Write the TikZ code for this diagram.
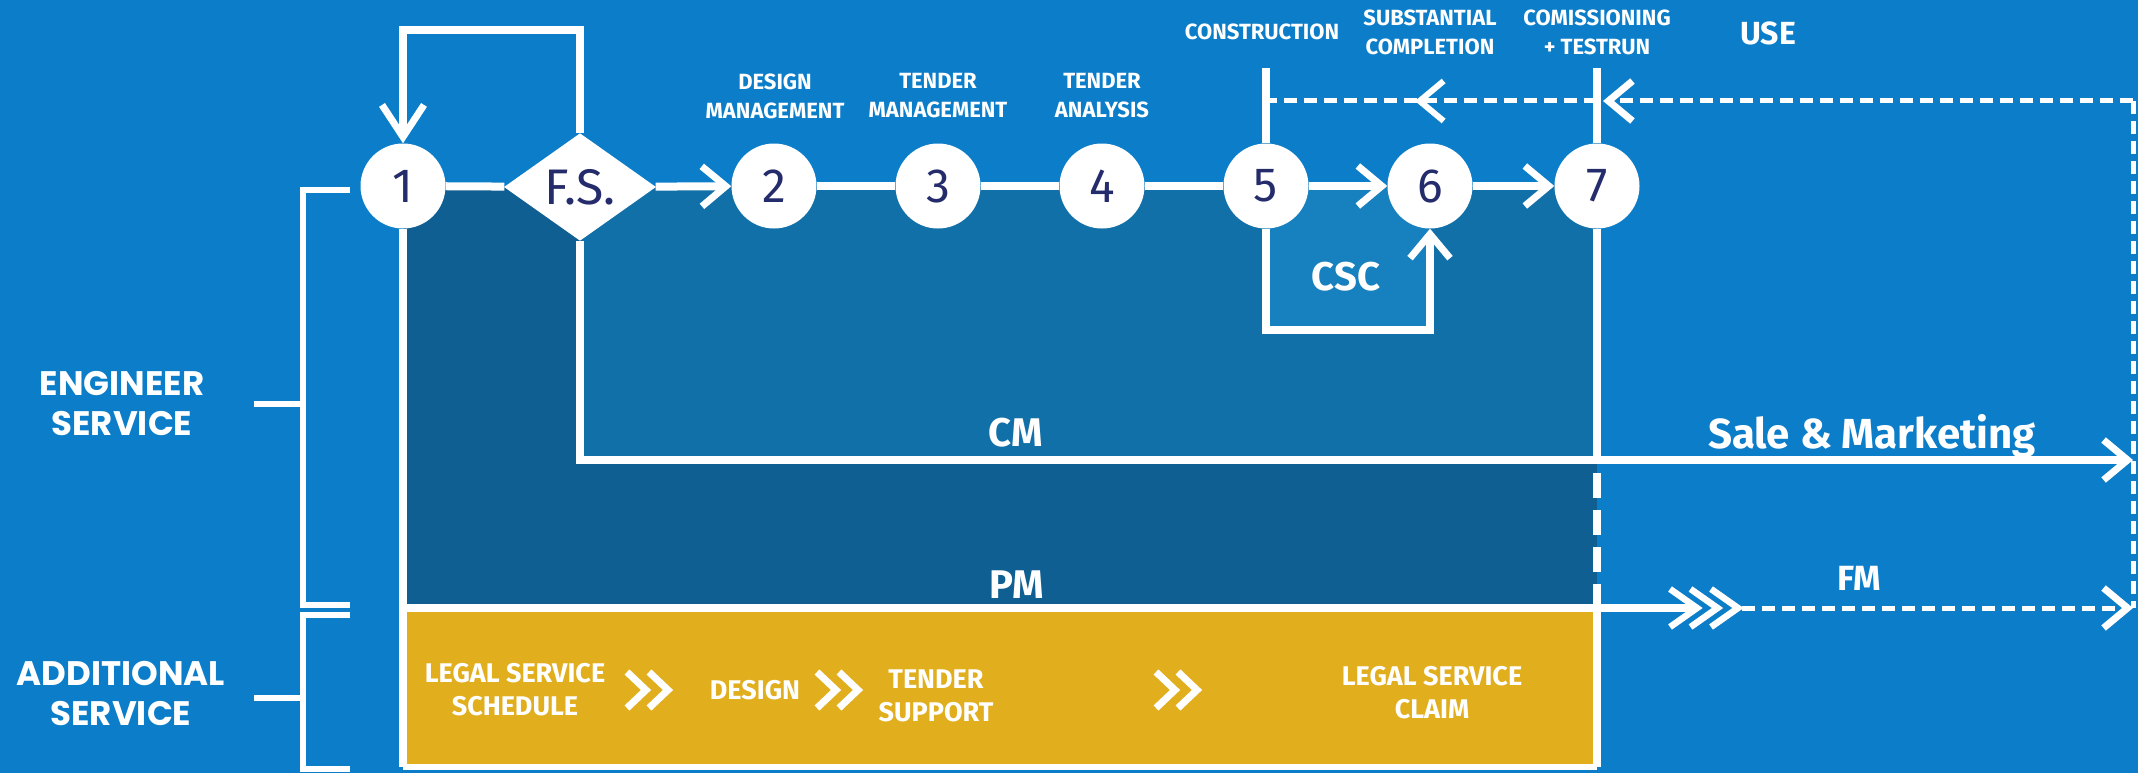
\documentclass[tikz,border=0pt]{standalone}
\usepackage{fontspec}
\setmainfont{Fira Sans}
\newfontfamily\popfont{Poppins}
\usetikzlibrary{arrows.meta,shapes.geometric,decorations.markings}
\definecolor{bgblue}{HTML}{0B7DC9}
\definecolor{darkreg}{HTML}{105F92}
\definecolor{midreg}{HTML}{1270A8}
\definecolor{cscreg}{HTML}{1780BF}
\definecolor{goldbox}{HTML}{E1AE1E}
\definecolor{navy}{HTML}{252C6C}
\begin{document}
\begin{tikzpicture}[x=1pt,y=-1pt,
  numnode/.style={circle, fill=white, minimum size=85pt, inner sep=0pt, text=navy, font=\fontsize{48}{48}\selectfont},
  fsnode/.style={diamond, fill=white, minimum width=152pt, minimum height=104pt, inner sep=0pt, text=navy, font=\fontsize{50}{50}\selectfont},
  wline/.style={draw=white, line width=8pt, line join=miter},
  dline/.style={draw=white, line width=5pt, dash pattern=on 13pt off 7pt},
  barb/.style={-{Straight Barb[length=24pt,width=40pt,line width=7pt]}},
  bigbarb/.style={-{Straight Barb[length=32pt,width=42pt,line width=7pt]}},
  midarrow/.style={postaction={decorate, decoration={markings, mark=at position 0.55 with {\arrow{Straight Barb[length=24pt,width=40pt,line width=6pt]}}}}},
  bracketline/.style={draw=white, line width=6pt, line join=miter},
  toplbl/.style={text=white, font=\bfseries\fontsize{22}{29}\selectfont, align=center, inner sep=0pt},
  sidelbl/.style={text=white, font=\popfont\bfseries\fontsize{34}{40}\selectfont, align=center, inner sep=0pt},
  biglbl/.style={text=white, font=\bfseries\fontsize{40}{40}\selectfont, inner sep=0pt},
  goldlbl/.style={text=white, font=\bfseries\fontsize{27}{33}\selectfont, align=center, inner sep=0pt},
  dchev/.pic={\draw[white, line width=7pt] (-29,-18) -- (-10,0) -- (-29,18) (-7,-18) -- (12,0) -- (-7,18);}
]
\useasboundingbox (0,0) rectangle (2138,773);
% backgrounds
\fill[bgblue] (0,0) rectangle (2138,773);
\fill[darkreg] (403,186) rectangle (1597,608);
\fill[midreg] (580,186) rectangle (1597,460);
\fill[cscreg] (1266,186) rectangle (1430,330);
\fill[goldbox] (403,608) rectangle (1597,767);

% nodes
\node[numnode] (n1) at (403,186) {1};
\node[fsnode]  (fs) at (580,187) {F.S.};
\node[numnode] (n2) at (774,186) {2};
\node[numnode] (n3) at (938,186) {3};
\node[numnode] (n4) at (1102,186) {4};
\node[numnode] (n5) at (1266,186) {5};
\node[numnode] (n6) at (1430,186) {6};
\node[numnode] (n7) at (1597,186) {7};

% coordinates
\coordinate (loopL) at (403,30);
\coordinate (loopR) at (580,30);
\coordinate (t5) at (1266,68);
\coordinate (t7) at (1597,68);
\coordinate (d5) at (1266,101);
\coordinate (d7) at (1597,101);
\coordinate (d7r) at (1603,101);
\coordinate (dR) at (2133,101);
\coordinate (cmL) at (580,460);
\coordinate (cm7) at (1597,460);
\coordinate (cmR) at (2133,460);
\coordinate (v7a) at (1597,473);
\coordinate (v7b) at (1597,585);
\coordinate (pmL) at (403,608);
\coordinate (pm7) at (1597,608);
\coordinate (fmA) at (1697,608);
\coordinate (fmB) at (1742,608);
\coordinate (fmR) at (2133,608);
\coordinate (bl) at (403,767);
\coordinate (br) at (1597,767);
\coordinate (csc1) at (1266,330);
\coordinate (csc2) at (1430,330);

% main chain
\draw[wline] (n1) -- (fs);
\draw[wline, barb] (fs) -- (n2);
\draw[wline] (n2) -- (n3);
\draw[wline] (n3) -- (n4);
\draw[wline] (n4) -- (n5);
\draw[wline, barb] (n5) -- (n6);
\draw[wline, barb] (n6) -- (n7);
% loop back to 1
\draw[wline, bigbarb] (fs.north) -- (loopR) -- (loopL) -- (n1.north);
% verticals above 5 and 7
\draw[wline] (n5.north) -- (t5);
\draw[wline] (n7.north) -- (t7);
% dashed feedback
\draw[dline, midarrow] (d7) -- (d5);
\draw[dline, barb] (dR) -- (d7r);
\draw[dline] (dR) -- (fmR);
% CSC loop
\draw[wline, barb] (n5.south) -- (csc1) -- (csc2) -- (n6.south);
% CM line
\draw[wline, barb] (fs.south) -- (cmL) -- (cmR);
% line 7 down
\draw[wline] (n7.south) -- (cm7);
\draw[white, line width=8pt, dash pattern=on 25pt off 12pt] (v7a) -- (v7b);
\draw[wline] (v7b) -- (br);
% PM line and FM
\draw[wline] (pmL) -- (pm7) -- (fmA);
\foreach \tx in {1697,1717.5,1738}{
  \draw[white, line width=6.5pt] (\tx-27,589) -- (\tx,608) -- (\tx-27,627);
}
\draw[dline, barb] (fmB) -- (fmR);
% yellow box border
\draw[wline] (n1.south) -- (bl);
\draw[white, line width=6pt] (bl) -- (br);

% brackets
\draw[bracketline] (350,190) -- (303,190) -- (303,605) -- (350,605);
\draw[bracketline] (254,404) -- (303,404);
\draw[bracketline] (350,615) -- (303,615) -- (303,769) -- (350,769);
\draw[bracketline] (254,698) -- (303,698);

% labels
\node[sidelbl] (les) at (122,404) {ENGINEER\\SERVICE};
\node[sidelbl] (las) at (121,694) {ADDITIONAL\\SERVICE};
\node[toplbl] (ldm) at (775,96) {DESIGN\\MANAGEMENT};
\node[toplbl] (ltm) at (938,96) {TENDER\\MANAGEMENT};
\node[toplbl] (lta) at (1102,96) {TENDER\\ANALYSIS};
\node[toplbl] (lco) at (1262,32) {CONSTRUCTION};
\node[toplbl] (lsc) at (1430,32) {SUBSTANTIAL\\COMPLETION};
\node[toplbl] (lct) at (1597,32) {COMISSIONING\\+ TESTRUN};
\node[text=white, font=\bfseries\fontsize{32}{32}\selectfont, inner sep=0pt] (luse) at (1768,33) {USE};
\node[biglbl] (lcsc) at (1346,277) {CSC};
\node[biglbl] (lcm) at (1016,433) {CM};
\node[biglbl] (lpm) at (1017,585) {PM};
\node[text=white, font=\bfseries\fontsize{42}{42}\selectfont, inner sep=0pt] (lsm) at (1872,436) {Sale \& Marketing};
\node[text=white, font=\bfseries\fontsize{35}{35}\selectfont, inner sep=0pt] (lfm) at (1859,578) {FM};
% yellow box content
\node[goldlbl] (g1) at (515,690) {LEGAL SERVICE\\SCHEDULE};
\pic at (656,690) {dchev};
\node[goldlbl] (g2) at (755,690) {DESIGN};
\pic at (846,690) {dchev};
\node[goldlbl] (g3) at (936,696) {TENDER\\SUPPORT};
\pic at (1185,690) {dchev};
\node[goldlbl] (g4) at (1432,693) {LEGAL SERVICE\\CLAIM};
\end{tikzpicture}
\end{document}
